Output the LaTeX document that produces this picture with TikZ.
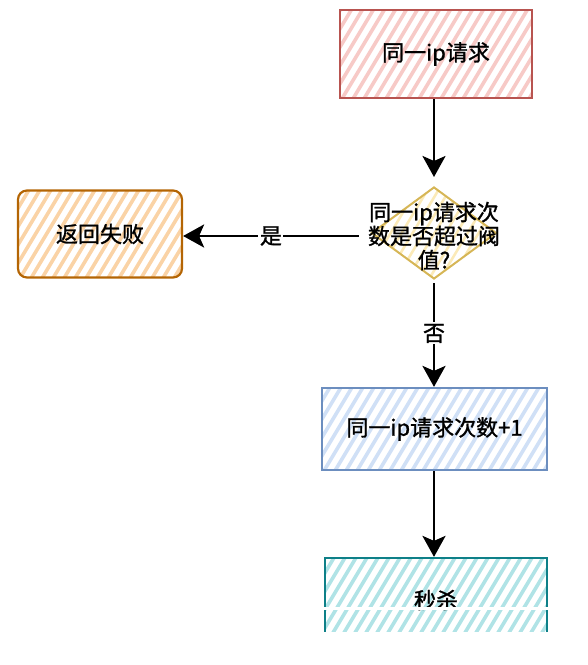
\documentclass[tikz,border=0pt]{standalone}
\usepackage{fontspec}
\setmainfont{Noto Sans CJK SC}[FakeBold=1.2]
\usetikzlibrary{arrows.meta,calc,shapes.geometric}
\definecolor{redS}{HTML}{B85450}\definecolor{redH}{HTML}{F7CAC7}
\definecolor{orgS}{HTML}{B46504}\definecolor{orgH}{HTML}{FAD3A6}
\definecolor{ylwS}{HTML}{D6B656}\definecolor{ylwH}{HTML}{FBEAB8}
\definecolor{bluS}{HTML}{6C8EBF}\definecolor{bluH}{HTML}{D0E0F6}
\definecolor{tealS}{HTML}{0E8088}\definecolor{tealH}{HTML}{B0E3E6}
\tikzset{
  box/.style={rectangle, line width=2.2pt, inner sep=0pt, font=\fontsize{22}{25}\selectfont, align=center},
  arr/.style={line width=2.8pt, -{Stealth[length=21pt,width=23pt,inset=5pt]}},
  lbl/.style={fill=white, inner sep=1.5pt, font=\fontsize{22}{25}\selectfont},
  hatchline/.style={line width=3.6pt},
  hatch/.style={path picture={
    \foreach \k in {-14,...,24}
      \draw[hatchline,#1] ($(path picture bounding box.south west)+(\k*11,4)$) -- ++(66,-110);}},
}
\begin{document}
\begin{tikzpicture}[x=1pt,y=-1pt]
\useasboundingbox (0,0) rectangle (588,665);
% nodes
\node[box, draw=redS, hatch=redH, minimum width=192pt, minimum height=88pt] (req) at (436,54) {同一ip请求};
\node[diamond, draw=ylwS, hatch={ylwH,line width=2.6pt}, line width=2pt, minimum width=125pt, minimum height=92pt, inner sep=0pt] (dec) at (434,233) {};
\node[align=center, font=\fontsize{22}{24}\selectfont, inner xsep=9pt, inner ysep=0pt] (dectext) at (434,236) {同一ip请求次\\数是否超过阀\\值?};
\node[box, draw=orgS, hatch=orgH, rounded corners=9pt, minimum width=164pt, minimum height=87pt] (fail) at (100,234) {返回失败};
\node[box, draw=bluS, hatch=bluH, minimum width=225pt, minimum height=82pt] (inc) at (434.5,429) {同一ip请求次数+1};
\node[box, draw=tealS, hatch=tealH, minimum width=222pt, minimum height=84pt] (kill) at (436,600) {秒杀};
% connectors
\draw[arr, shorten >=9pt] (req.south -| dec.north) -- (dec.north);
\draw[arr] (dectext.west) -- node[lbl] (yes) {是} (fail.east |- dectext.west);
\draw[arr, shorten <=3pt] (dec.south) -- node[lbl] (no) {否} (inc.north -| dec.south);
\draw[arr] (inc.south -| dec.south) -- (kill.north -| dec.south);
% cropped bottom of the last box, as in the reference
\fill[white] (318,607) rectangle (556,610);
\fill[white] (318,632) rectangle (556,665);
\end{tikzpicture}
\end{document}
